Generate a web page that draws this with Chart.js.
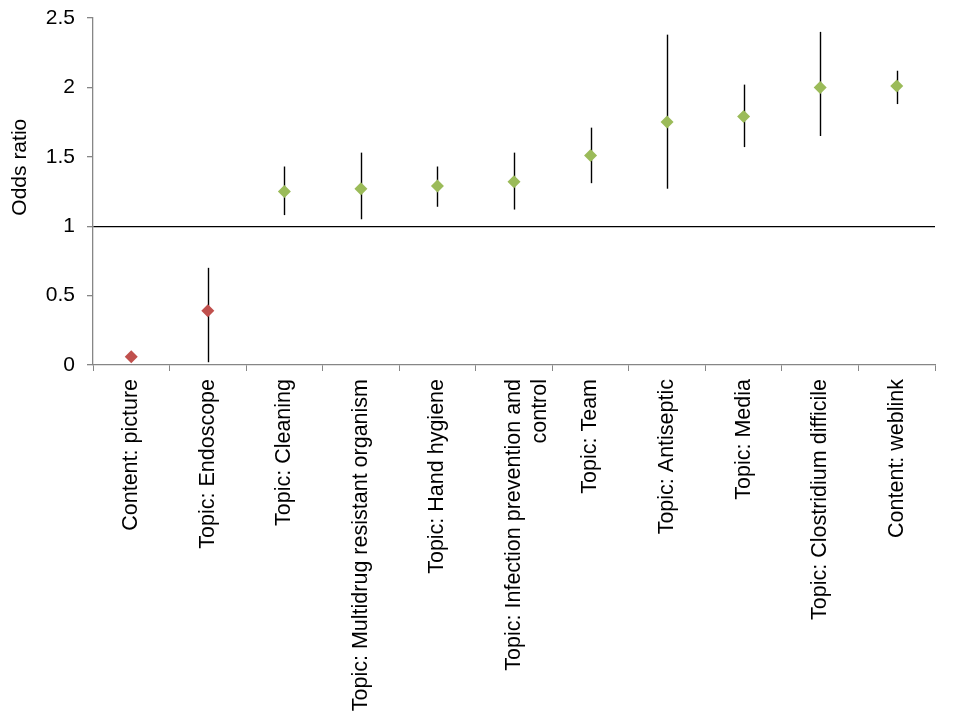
<!DOCTYPE html>
<html>
<head>
<meta charset="utf-8">
<script src="https://cdn.jsdelivr.net/npm/chart.js@4.4.1/dist/chart.umd.min.js"></script>
<style>
  html, body { margin: 0; padding: 0; background: #fff; }
</style>
</head>
<body>
<canvas id="chart" width="960" height="720"></canvas>
<script>
// categories (multi-line labels are arrays)
let categories = [
    'Content: picture',
    'Topic: Endoscope',
    'Topic: Cleaning',
    'Topic: Multidrug resistant organism',
    'Topic: Hand hygiene',
    ['Topic: Infection prevention and', 'control'],
    'Topic: Team',
    'Topic: Antiseptic',
    'Topic: Media',
    'Topic: Clostridium difficile',
    'Content: weblink'
];

let oddsRatio = [0.06, 0.39, 1.25, 1.27, 1.29, 1.32, 1.51, 1.75, 1.79, 2.00, 2.01];
let ciLower   = [0.05, 0.02, 1.08, 1.05, 1.14, 1.12, 1.31, 1.27, 1.57, 1.65, 1.88];
let ciUpper   = [0.07, 0.70, 1.43, 1.53, 1.43, 1.53, 1.71, 2.38, 2.02, 2.40, 2.12];

let yTicks = [0, 0.5, 1, 1.5, 2, 2.5];
let yTitle = 'Odds ratio';

const RED = '#C0504D';
const GREEN = '#9BBB59';
const FONT = 'Liberation Sans';

// draw the confidence interval lines under the markers
const errorBars = {
    id: 'errorBars',
    beforeDatasetsDraw(chart) {
        const ctx = chart.ctx;
        const x = chart.scales.x;
        const y = chart.scales.y;
        ctx.save();
        ctx.strokeStyle = '#000';
        ctx.lineWidth = 1.4;
        for (let i = 0; i < oddsRatio.length; i++) {
            let px = Math.round(x.getPixelForValue(i)) + 0.5;
            ctx.beginPath();
            ctx.moveTo(px, y.getPixelForValue(ciLower[i]));
            ctx.lineTo(px, y.getPixelForValue(ciUpper[i]));
            ctx.stroke();
        }
        ctx.restore();
    }
};

// y title sits a bit above the middle of the axis, like the original
const axisTitle = {
    id: 'axisTitle',
    afterDraw(chart) {
        const ctx = chart.ctx;
        const area = chart.chartArea;
        ctx.save();
        ctx.translate(20, area.top + (area.bottom - area.top) * 0.43);
        ctx.rotate(-Math.PI / 2);
        ctx.font = '21px "' + FONT + '"';
        ctx.fillStyle = '#000';
        ctx.textAlign = 'center';
        ctx.textBaseline = 'middle';
        ctx.fillText(yTitle, 0, 0);
        ctx.restore();
    }
};

new Chart(document.getElementById('chart'), {
    type: 'line',
    data: {
        labels: categories,
        datasets: [{
            data: oddsRatio,
            showLine: false,
            pointStyle: 'rectRot',
            pointRadius: 6.5,
            pointHoverRadius: 6.5,
            pointBorderWidth: 0,
            pointBackgroundColor: oddsRatio.map(v => v < 1 ? RED : GREEN),
            pointBorderColor: oddsRatio.map(v => v < 1 ? RED : GREEN)
        }]
    },
    options: {
        responsive: false,
        devicePixelRatio: 1,
        animation: false,
        events: [],
        layout: { padding: { top: 18, right: 25, left: 0, bottom: 0 } },
        plugins: {
            legend: { display: false },
            tooltip: { enabled: false }
        },
        scales: {
            x: {
                offset: true,
                grid: {
                    offset: true,
                    drawOnChartArea: false,
                    drawTicks: true,
                    tickLength: 6,
                    tickColor: '#868686'
                },
                border: { color: '#868686', width: 1.3 },
                ticks: {
                    minRotation: 90,
                    maxRotation: 90,
                    autoSkip: false,
                    padding: 8,
                    color: '#000',
                    font: { family: FONT, size: 21.5 }
                },
                afterFit(scale) {
                    scale.height = 355;
                    scale.paddingLeft = 0;
                    scale.paddingRight = 0;
                }
            },
            y: {
                min: 0,
                max: 2.5,
                afterBuildTicks(scale) {
                    scale.ticks = yTicks.map(v => ({ value: v }));
                },
                grid: {
                    color: c => (c.tick && c.tick.value === 1) ? '#000' : 'rgba(0,0,0,0)',
                    lineWidth: 1.3,
                    drawTicks: true,
                    tickLength: 6,
                    tickColor: '#868686'
                },
                border: { color: '#868686', width: 1.3 },
                ticks: {
                    padding: 12,
                    color: '#000',
                    font: { family: FONT, size: 21 },
                    callback: v => String(v)
                },
                afterFit(scale) {
                    scale.width = 93;
                    scale.paddingTop = 0;
                    scale.paddingBottom = 0;
                }
            }
        }
    },
    plugins: [errorBars, axisTitle]
});
</script>
</body>
</html>
